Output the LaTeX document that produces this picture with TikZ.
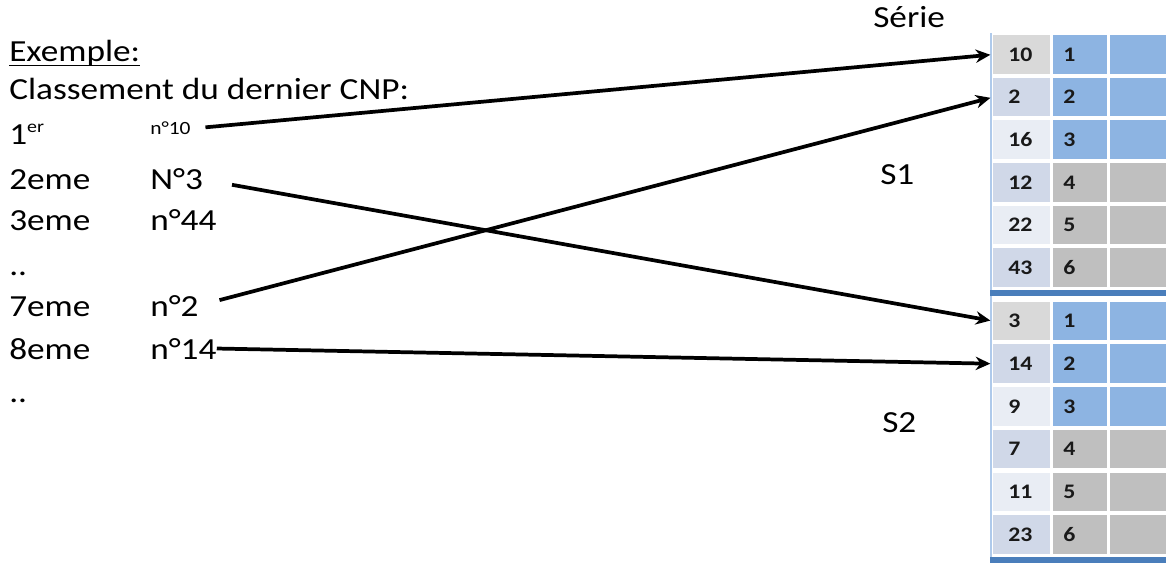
\documentclass[tikz,border=0pt]{standalone}
\usepackage{fontspec}
\setmainfont[FakeStretch=1.15]{Carlito}
\usetikzlibrary{arrows.meta}
\definecolor{cellgray}{HTML}{D9D9D9}
\definecolor{cellblue}{HTML}{D0D8E8}
\definecolor{cellpale}{HTML}{E9EDF4}
\definecolor{barblue}{HTML}{8DB4E2}
\definecolor{bargray}{HTML}{BFBFBF}
\definecolor{rimblue}{HTML}{4A7EBB}
\newcommand\ulword[1]{\setbox0\hbox{#1}\rlap{\rule[-3.2pt]{\wd0}{1.3pt}}\box0}

\begin{document}
\begin{tikzpicture}[x=0.75pt, y=-0.75pt,
    txt/.style={anchor=base west, inner sep=0pt, font=\fontsize{23}{28}\selectfont},
    small/.style={anchor=base west, inner sep=0pt, font=\fontsize{14}{17}\selectfont},
    cell/.style={anchor=north west, inner ysep=0pt, minimum height=28.9pt, align=left,
      font=\fontsize{15.5}{18}\selectfont\bfseries, text=black!90},
    numcell/.style={cell, text width=20pt, inner xsep=11.375pt},
    rankcell/.style={cell, text width=25.5pt, inner xsep=7.5pt},
    blankcell/.style={cell, inner xsep=0pt, minimum width=42pt},
    arr/.style={-{Stealth[length=11pt,width=10pt]}, line width=2.8pt, shorten >=2pt},
  ]
  \useasboundingbox (0,0) rectangle (1166,563);

  % classement
  \node[txt] (ex) at (9,62) {\ulword{Exemple:}};
  \node[txt] (cl) at (9,100) {Classement du dernier CNP:};
  \node[txt] (r1) at (9,145) {1\textsuperscript{\fontsize{13}{15}\selectfont er}};
  \node[small] (n10) at (150,135) {n°10};
  \node[txt] (r2) at (9,190) {2eme};
  \node[txt] (n3) at (150,190) {N°3};
  \node[txt] (r3) at (9,230) {3eme};
  \node[txt] (n44) at (150,230) {n°44};
  \node[txt] (dots1) at (9,275) {..};
  \node[txt] (r7) at (9,316) {7eme};
  \node[txt] (n2) at (150,316) {n°2};
  \node[txt] (r8) at (9,359) {8eme};
  \node[txt] (n14) at (150,359) {n°14};
  \node[txt] (dots2) at (9,402) {..};

  % series
  \node[txt] (serie) at (873,28) {Série};
  \node[txt] (s1) at (880,185) {S1};
  \node[txt] (s2) at (882,432) {S2};

  \foreach \v/\fa/\fb [count=\i] in {10/cellgray/barblue, 2/cellblue/barblue, 16/cellpale/barblue,
      12/cellblue/bargray, 22/cellpale/bargray, 43/cellblue/bargray}{
    \node[numcell, fill=\fa] (t1a\i) at (993,{35+42.6*(\i-1)}) {\v};
    \node[rankcell, fill=\fb] (t1b\i) at (1053,{35+42.6*(\i-1)}) {\i};
    \node[blankcell, fill=\fb] (t1c\i) at (1110,{35+42.6*(\i-1)}) {};
  };
  \foreach \v/\fa/\fb [count=\i] in {3/cellgray/barblue, 14/cellblue/barblue, 9/cellpale/barblue,
      7/cellblue/bargray, 11/cellpale/bargray, 23/cellblue/bargray}{
    \node[numcell, fill=\fa] (t2a\i) at (993,{301.5+42.7*(\i-1)}) {\v};
    \node[rankcell, fill=\fb] (t2b\i) at (1053,{301.5+42.7*(\i-1)}) {\i};
    \node[blankcell, fill=\fb] (t2c\i) at (1110,{301.5+42.7*(\i-1)}) {};
  };
  \draw[barblue!70, line width=1.5pt] (991,33) -- (991,560);
  \fill[rimblue] (990,290) rectangle (1166,296);
  \fill[rimblue] (990,557) rectangle (1166,563);

  % fleches
  \draw[arr, shorten <=11pt] (n10.east) -- (t1a1.west);
  \draw[arr, shorten <=22pt] (n3.east) -- (t2a1.west);
  \draw[arr, shorten <=16pt] (n2.east) -- (t1a2.west);
  \draw[arr] (n14.east) -- (t2a2.west);
\end{tikzpicture}
\end{document}
